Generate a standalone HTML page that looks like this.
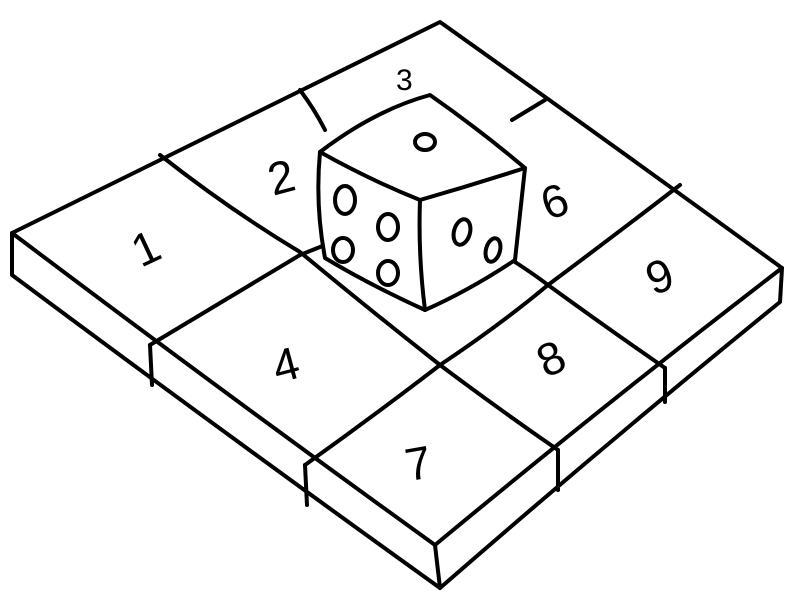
<!DOCTYPE html>
<html><head><meta charset="utf-8"><style>
html,body{margin:0;padding:0;background:#fff;}
svg{display:block}
text{font-family:"Liberation Sans",sans-serif;font-size:46px;fill:#000;}
</style></head><body>
<svg width="800" height="607" viewBox="0 0 800 607" fill="none" stroke="#000" stroke-width="4" stroke-linejoin="round" stroke-linecap="round">
<g>
  <path d="M12,233 Q200,140 440,22 Q620,150 782,268 Q610,400 435,545 Q220,390 12,233 Z"/>
  <path d="M12,233 L12,275 Q220,430 440,588 L435,545"/>
  <path d="M440,588 Q610,440 780,302 L782,268"/>
  <path d="M150,345 L152,385"/>
  <path d="M305,465 L307,505"/>
  <path d="M558,450 L558,490"/>
  <path d="M665,368 L665,402"/>
  <path d="M160,155 Q230,210 300,252 M300,252 Q370,310 440,365 Q500,410 558,450"/>
  <path d="M300,90 Q315,110 325,130 M515,262 Q535,275 548,285 Q610,330 665,368"/>
  <path d="M150,345 Q225,300 300,255 L325,245 M545,100 L512,120"/>
  <path d="M305,465 Q375,415 440,365 Q500,325 548,285 Q615,235 680,185"/>
</g>
<g>
  <path d="M320,152 Q375,110 430,95 Q480,130 525,168 Q520,215 515,260 Q470,290 425,310 Q370,285 325,258 Q315,205 320,152 Z" fill="#fff"/>
  <path d="M320,152 Q370,180 420,200 Q472,185 525,168 M420,200 Q418,255 425,310"/>
  <ellipse cx="425" cy="142" rx="10" ry="8"/>
  <ellipse cx="345" cy="200" rx="10" ry="14"/>
  <ellipse cx="388" cy="227" rx="10" ry="13"/>
  <ellipse cx="343" cy="250" rx="10" ry="12"/>
  <ellipse cx="388" cy="273" rx="10" ry="12"/>
  <ellipse cx="462" cy="232" rx="8" ry="13" transform="rotate(15 462 232)"/>
  <ellipse cx="493" cy="250" rx="7" ry="12" transform="rotate(15 493 250)"/>
</g>
<g stroke="none">
  <text x="132" y="262" transform="rotate(-25 150 245)">1</text>
  <text x="268" y="192" transform="rotate(-15 285 175)">2</text>
  <text x="396" y="90" style="font-size:30px">3</text>
  <text x="272" y="378" transform="rotate(-15 295 360)">4</text>
  <text x="540" y="215" transform="rotate(-20 560 195)">6</text>
  <text x="405" y="478" transform="rotate(-10 425 460)">7</text>
  <text x="535" y="372" transform="rotate(-25 555 350)">8</text>
  <text x="645" y="290" transform="rotate(-20 665 270)">9</text>
</g>
</svg>
</body></html>
